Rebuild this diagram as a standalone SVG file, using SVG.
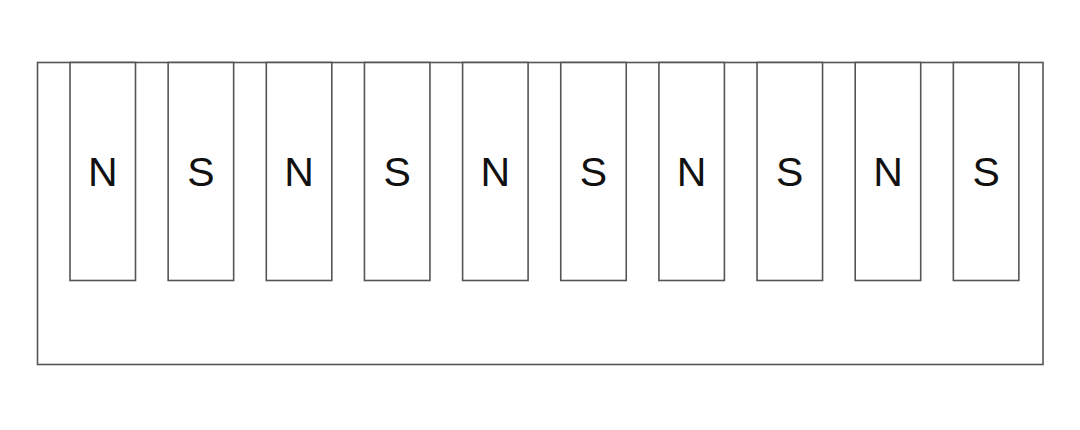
<svg xmlns="http://www.w3.org/2000/svg" width="1080" height="430" viewBox="0 0 1080 430">
<style>
.box{fill:#fff;stroke:#555;stroke-width:1.6}
.lbl{font-family:"Liberation Sans",Arial,sans-serif;font-size:41px;fill:#111;text-anchor:middle}
</style>
<rect width="1080" height="430" fill="#fff"/>
<g id="base"><rect class="box" x="37.5" y="62.5" width="1005.5" height="302"/></g>
<g id="m1"><rect class="box" x="70" y="62.5" width="65.5" height="218"/><text class="lbl" x="102.75" y="186">N</text></g>
<g id="m2"><rect class="box" x="168.15" y="62.5" width="65.5" height="218"/><text class="lbl" x="200.9" y="186">S</text></g>
<g id="m3"><rect class="box" x="266.3" y="62.5" width="65.5" height="218"/><text class="lbl" x="299.05" y="186">N</text></g>
<g id="m4"><rect class="box" x="364.45" y="62.5" width="65.5" height="218"/><text class="lbl" x="397.2" y="186">S</text></g>
<g id="m5"><rect class="box" x="462.6" y="62.5" width="65.5" height="218"/><text class="lbl" x="495.35" y="186">N</text></g>
<g id="m6"><rect class="box" x="560.75" y="62.5" width="65.5" height="218"/><text class="lbl" x="593.5" y="186">S</text></g>
<g id="m7"><rect class="box" x="658.9" y="62.5" width="65.5" height="218"/><text class="lbl" x="691.65" y="186">N</text></g>
<g id="m8"><rect class="box" x="757.05" y="62.5" width="65.5" height="218"/><text class="lbl" x="789.8" y="186">S</text></g>
<g id="m9"><rect class="box" x="855.2" y="62.5" width="65.5" height="218"/><text class="lbl" x="887.95" y="186">N</text></g>
<g id="m10"><rect class="box" x="953.35" y="62.5" width="65.5" height="218"/><text class="lbl" x="986.1" y="186">S</text></g>
<g id="connectors"/>
</svg>
